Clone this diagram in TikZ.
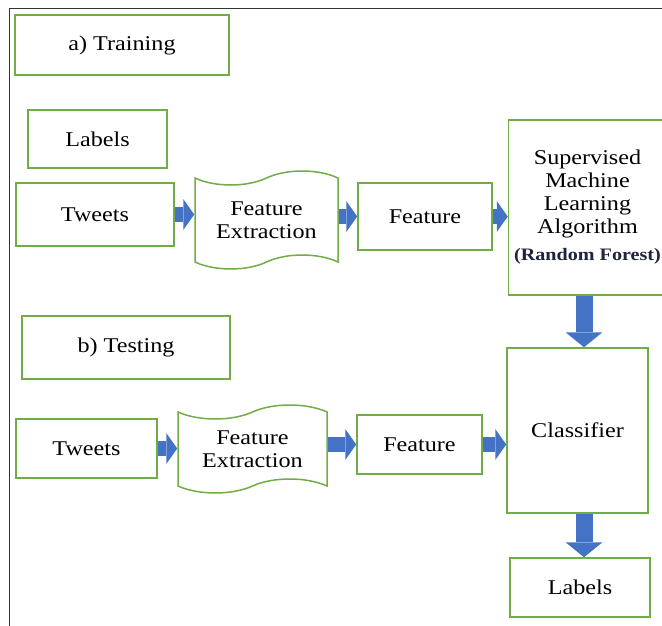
\documentclass[tikz,border=0pt]{standalone}
\usepackage{fontspec}
\setmainfont[FakeStretch=1.15]{Liberation Serif}
\usetikzlibrary{
	arrows.meta,
	calc,
	positioning,
	shapes.symbols
}
\definecolor{boxgreen}{HTML}{70AD47}
\definecolor{arrowblue}{HTML}{4472C4}
\definecolor{darknavy}{HTML}{1F2240}
\tikzset{
	TW-Box/.style={rectangle,draw=boxgreen,line width=1.5pt,fill=white,align=center,inner sep=0pt,font=\fontsize{21}{23}\selectfont},
	TW-Tape/.style={TW-Box,tape,tape bend top=in and out,tape bend bottom=in and out,tape bend height=14pt},
	TW-Arrow/.style={draw=arrowblue,line width=15pt,-{Triangle[length=11pt,width=31pt,line width=0pt]}},
	TW-Down/.style={draw=arrowblue,line width=17pt,-{Triangle[length=15pt,width=37pt,line width=0pt]}}
}

\begin{document}
\begin{tikzpicture}[x=1pt,y=-1pt]
	\useasboundingbox (0,0) rectangle (662,626);
	\draw [line width=0.8pt,black!80] (9,626) -- (9,8) -- (662,8);
	% training
	\node [TW-Box,minimum width=214pt,minimum height=60pt] (node_train) at (122,45) {a) Training};
	\node [TW-Box,minimum width=139pt,minimum height=58pt] (node_lab1) at (97.5,139) {Labels};
	\node [TW-Box,minimum width=158pt,minimum height=63pt] (node_tw1) at (95,214.5) {Tweets};
	\node [TW-Tape,minimum width=143pt,minimum height=98pt] (node_fx1) at (266.5,220) {Feature\\Extraction};
	\node [TW-Box,minimum width=134pt,minimum height=67pt] (node_feat1) at (425,216.5) {Feature};
	\node [TW-Box,minimum width=158pt,minimum height=175pt] (node_sup) at (587.5,207.5)
		{Supervised\\Machine\\Learning\\Algorithm\\[4pt]{\fontsize{17.5}{20}\selectfont\bfseries\color{darknavy}(Random Forest)}};
	% testing
	\node [TW-Box,minimum width=208pt,minimum height=63pt] (node_test) at (126,347.5) {b) Testing};
	\node [TW-Box,minimum width=141pt,minimum height=59pt] (node_tw2) at (86.5,448.5) {Tweets};
	\node [TW-Tape,minimum width=149pt,minimum height=88pt] (node_fx2) at (252.5,449) {Feature\\Extraction};
	\node [TW-Box,minimum width=125pt,minimum height=59pt] (node_feat2) at (419.5,444.5) {Feature};
	\node [TW-Box,minimum width=141pt,minimum height=165pt] (node_cls) at (577.5,430.5) {Classifier};
	\node [TW-Box,minimum width=140pt,minimum height=59pt] (node_lab2) at (580,587.5) {Labels};
	\coordinate (col) at ([xshift=6.5pt]node_cls.north);
	% block arrows
	\draw [TW-Arrow] (node_tw1.east) -- (node_tw1.east -| node_fx1.west);
	\draw [TW-Arrow] (node_feat1.west -| node_fx1.east) -- (node_feat1.west);
	\draw [TW-Arrow] (node_feat1.east) -- (node_feat1.east -| node_sup.west);
	\draw [TW-Arrow] (node_tw2.east) -- (node_tw2.east -| node_fx2.west);
	\draw [TW-Arrow] (node_fx2.east |- node_feat2.west) -- (node_feat2.west);
	\draw [TW-Arrow] (node_feat2.east) -- (node_feat2.east -| node_cls.west);
	\draw [TW-Down] (col |- node_sup.south) -- (col);
	\draw [TW-Down] (col |- node_cls.south) -- (col |- node_lab2.north);
\end{tikzpicture}
\end{document}
